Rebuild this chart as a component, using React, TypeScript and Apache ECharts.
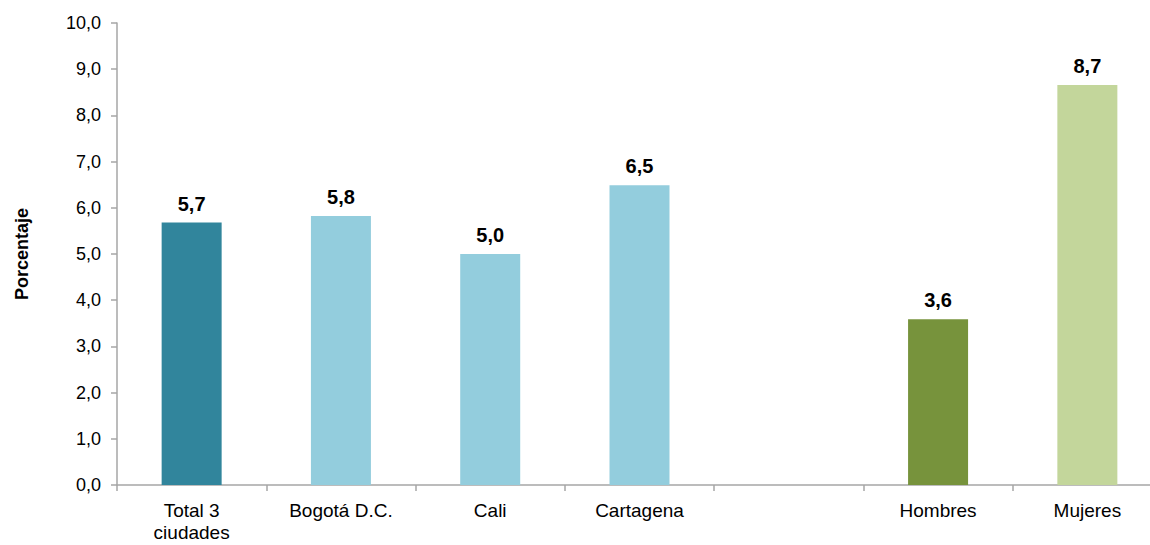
import React, { useEffect, useRef } from "react";
import * as echarts from "echarts";

const categories = ["Total 3\nciudades", "Bogotá D.C.", "Cali", "Cartagena", "", "Hombres", "Mujeres"];
const values: (number | null)[] = [5.68, 5.82, 5.0, 6.49, null, 3.59, 8.66];
const barColors = ["#31859C", "#93CDDD", "#93CDDD", "#93CDDD", "#93CDDD", "#77933C", "#C3D69B"];
const yTicks = { min: 0, max: 10, interval: 1 };

export default function App() {
  const ref = useRef<HTMLDivElement>(null);
  useEffect(() => {
    document.body.style.margin = "0";
    document.body.style.overflow = "hidden";
    if (!ref.current) return;
    const chart = echarts.init(ref.current, undefined, { renderer: "svg" });
    const fmt = (v: number) => v.toFixed(1).replace(".", ",");
    chart.setOption({
      animation: false,
      backgroundColor: "#ffffff",
      textStyle: { fontFamily: "Liberation Sans, Arial, sans-serif" },
      grid: { left: 117, top: 23, bottom: 60, width: 1045, containLabel: false, outerBoundsMode: "none" },
      xAxis: {
        type: "category",
        data: categories,
        axisLine: { lineStyle: { color: "#A6A6A6", width: 1.5 } },
        axisTick: { show: true, alignWithLabel: false, length: 6, lineStyle: { color: "#A6A6A6", width: 1.5 } },
        axisLabel: { color: "#000", fontSize: 19, margin: 14, lineHeight: 22, interval: 0 },
      },
      yAxis: {
        type: "value",
        min: yTicks.min,
        max: yTicks.max,
        interval: yTicks.interval,
        name: "Porcentaje",
        nameLocation: "middle",
        nameGap: 86,
        nameTextStyle: { color: "#000", fontSize: 18, fontWeight: "bold" },
        splitLine: { show: false },
        axisLine: { show: true, lineStyle: { color: "#A6A6A6", width: 1.5 } },
        axisTick: { show: true, length: 6, lineStyle: { color: "#A6A6A6", width: 1.5 } },
        axisLabel: { color: "#000", fontSize: 18, margin: 16, formatter: (v: number) => fmt(v) },
      },
      series: [
        {
          type: "bar",
          barWidth: 60,
          data: values.map((v, i) => ({ value: v === null ? "-" : v, itemStyle: { color: barColors[i] } })),
          label: {
            show: true,
            position: "top",
            distance: 9,
            color: "#000",
            fontSize: 20,
            fontWeight: "bold",
            formatter: (p: any) => (typeof p.value === "number" ? fmt(p.value) : ""),
          },
        },
      ],
    });
    return () => chart.dispose();
  }, []);
  return (
    <div style={{ position: "absolute", left: 0, top: 0, width: 1150, height: 545, overflow: "hidden" }}>
      <div ref={ref} style={{ width: 1150, height: 545 }} />
    </div>
  );
}
